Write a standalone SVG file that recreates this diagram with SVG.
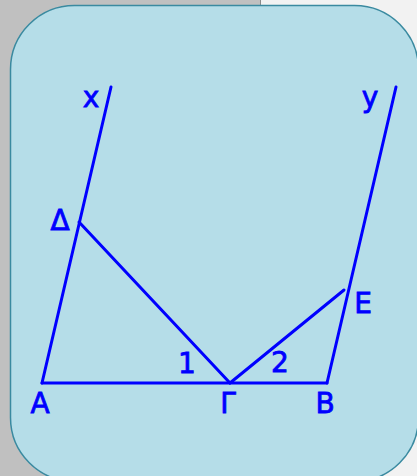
<svg xmlns="http://www.w3.org/2000/svg" width="417" height="476" viewBox="0 0 417 476">
<style>
.ln{stroke:#0000ff;stroke-width:3;fill:none;stroke-linecap:round;stroke-linejoin:round}
.lb{font-family:"DejaVu Sans","Liberation Sans",sans-serif;font-size:28px;fill:#0000ff;stroke:#0000ff;stroke-width:0.8;text-anchor:middle}
</style>
<rect x="0" y="0" width="261" height="476" fill="#c0c0c0"/>
<rect x="261" y="0" width="156" height="476" fill="#f2f2f2"/>
<line x1="260.5" y1="0" x2="260.5" y2="20" stroke="#8a8a8a" stroke-width="1"/>
<rect x="10.5" y="5.5" width="408" height="476" rx="64" ry="64" fill="#b5dde8" stroke="#3a8aa0" stroke-width="1.5"/>
<g id="connectors">
<line class="ln" x1="42" y1="383" x2="327" y2="383"/>
<line class="ln" x1="42" y1="383" x2="111" y2="87"/>
<line class="ln" x1="327" y1="383" x2="396" y2="87"/>
<line class="ln" x1="79" y1="222" x2="230" y2="383"/>
<line class="ln" x1="230" y1="383" x2="344" y2="290"/>
</g>
<g id="A"><text class="lb" x="40" y="413">A</text></g>
<g id="G"><text class="lb" x="228" y="413">Γ</text></g>
<g id="B"><text class="lb" x="325" y="413">B</text></g>
<g id="x"><text class="lb" x="91" y="107">x</text></g>
<g id="y"><text class="lb" x="370" y="107">y</text></g>
<g id="D"><text class="lb" x="60" y="230">Δ</text></g>
<g id="E"><text class="lb" x="363" y="313">E</text></g>
<g id="a1"><text class="lb" x="187" y="373">1</text></g>
<g id="a2"><text class="lb" x="280" y="372">2</text></g>
</svg>
